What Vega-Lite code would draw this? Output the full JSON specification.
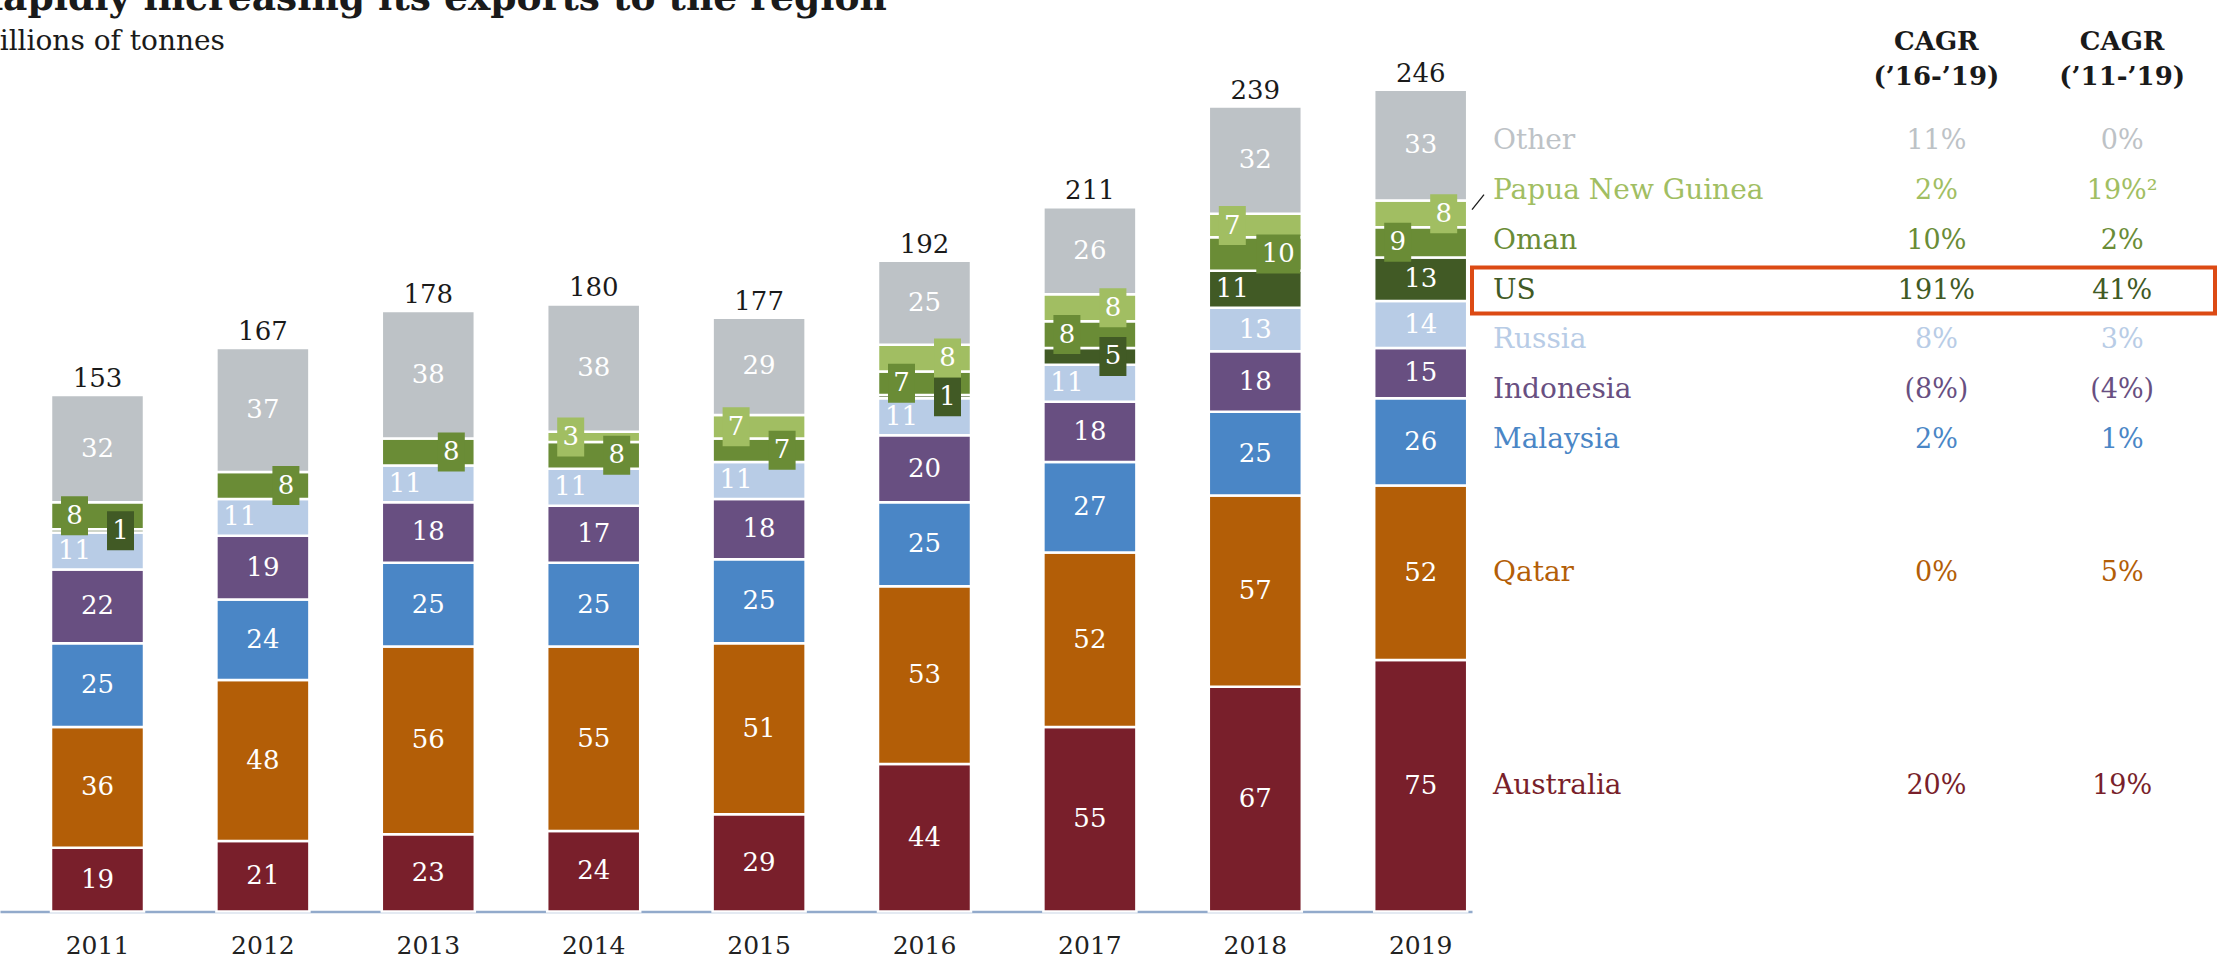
{
  "$schema": "https://vega.github.io/schema/vega-lite/v6.json",
  "padding": {"left": -29, "top": -20.5, "right": 0, "bottom": 0},
  "background": "white",
  "config": {"view": {"stroke": null}, "font": "DejaVu Serif", "text": {"font": "DejaVu Serif"}},
  "datasets": {
    "exports": [
      {"year": 2011, "country": "Australia", "value": 19},
      {"year": 2011, "country": "Qatar", "value": 36},
      {"year": 2011, "country": "Malaysia", "value": 25},
      {"year": 2011, "country": "Indonesia", "value": 22},
      {"year": 2011, "country": "Russia", "value": 11},
      {"year": 2011, "country": "US", "value": 1},
      {"year": 2011, "country": "Oman", "value": 8},
      {"year": 2011, "country": "Other", "value": 32},
      {"year": 2012, "country": "Australia", "value": 21},
      {"year": 2012, "country": "Qatar", "value": 48},
      {"year": 2012, "country": "Malaysia", "value": 24},
      {"year": 2012, "country": "Indonesia", "value": 19},
      {"year": 2012, "country": "Russia", "value": 11},
      {"year": 2012, "country": "Oman", "value": 8},
      {"year": 2012, "country": "Other", "value": 37},
      {"year": 2013, "country": "Australia", "value": 23},
      {"year": 2013, "country": "Qatar", "value": 56},
      {"year": 2013, "country": "Malaysia", "value": 25},
      {"year": 2013, "country": "Indonesia", "value": 18},
      {"year": 2013, "country": "Russia", "value": 11},
      {"year": 2013, "country": "Oman", "value": 8},
      {"year": 2013, "country": "Other", "value": 38},
      {"year": 2014, "country": "Australia", "value": 24},
      {"year": 2014, "country": "Qatar", "value": 55},
      {"year": 2014, "country": "Malaysia", "value": 25},
      {"year": 2014, "country": "Indonesia", "value": 17},
      {"year": 2014, "country": "Russia", "value": 11},
      {"year": 2014, "country": "Oman", "value": 8},
      {"year": 2014, "country": "Papua New Guinea", "value": 3},
      {"year": 2014, "country": "Other", "value": 38},
      {"year": 2015, "country": "Australia", "value": 29},
      {"year": 2015, "country": "Qatar", "value": 51},
      {"year": 2015, "country": "Malaysia", "value": 25},
      {"year": 2015, "country": "Indonesia", "value": 18},
      {"year": 2015, "country": "Russia", "value": 11},
      {"year": 2015, "country": "Oman", "value": 7},
      {"year": 2015, "country": "Papua New Guinea", "value": 7},
      {"year": 2015, "country": "Other", "value": 29},
      {"year": 2016, "country": "Australia", "value": 44},
      {"year": 2016, "country": "Qatar", "value": 53},
      {"year": 2016, "country": "Malaysia", "value": 25},
      {"year": 2016, "country": "Indonesia", "value": 20},
      {"year": 2016, "country": "Russia", "value": 11},
      {"year": 2016, "country": "US", "value": 1},
      {"year": 2016, "country": "Oman", "value": 7},
      {"year": 2016, "country": "Papua New Guinea", "value": 8},
      {"year": 2016, "country": "Other", "value": 25},
      {"year": 2017, "country": "Australia", "value": 55},
      {"year": 2017, "country": "Qatar", "value": 52},
      {"year": 2017, "country": "Malaysia", "value": 27},
      {"year": 2017, "country": "Indonesia", "value": 18},
      {"year": 2017, "country": "Russia", "value": 11},
      {"year": 2017, "country": "US", "value": 5},
      {"year": 2017, "country": "Oman", "value": 8},
      {"year": 2017, "country": "Papua New Guinea", "value": 8},
      {"year": 2017, "country": "Other", "value": 26},
      {"year": 2018, "country": "Australia", "value": 67},
      {"year": 2018, "country": "Qatar", "value": 57},
      {"year": 2018, "country": "Malaysia", "value": 25},
      {"year": 2018, "country": "Indonesia", "value": 18},
      {"year": 2018, "country": "Russia", "value": 13},
      {"year": 2018, "country": "US", "value": 11},
      {"year": 2018, "country": "Oman", "value": 10},
      {"year": 2018, "country": "Papua New Guinea", "value": 7},
      {"year": 2018, "country": "Other", "value": 32},
      {"year": 2019, "country": "Australia", "value": 75},
      {"year": 2019, "country": "Qatar", "value": 52},
      {"year": 2019, "country": "Malaysia", "value": 26},
      {"year": 2019, "country": "Indonesia", "value": 15},
      {"year": 2019, "country": "Russia", "value": 14},
      {"year": 2019, "country": "US", "value": 13},
      {"year": 2019, "country": "Oman", "value": 9},
      {"year": 2019, "country": "Papua New Guinea", "value": 8},
      {"year": 2019, "country": "Other", "value": 33}
    ],
    "totals": [
      {"year": 2011, "total": 153},
      {"year": 2012, "total": 167},
      {"year": 2013, "total": 178},
      {"year": 2014, "total": 180},
      {"year": 2015, "total": 177},
      {"year": 2016, "total": 192},
      {"year": 2017, "total": 211},
      {"year": 2018, "total": 239},
      {"year": 2019, "total": 246}
    ],
    "cagr": [
      {"country": "Other", "cagr16": "11%", "cagr11": "0%"},
      {"country": "Papua New Guinea", "cagr16": "2%", "cagr11": "19%²"},
      {"country": "Oman", "cagr16": "10%", "cagr11": "2%"},
      {"country": "US", "cagr16": "191%", "cagr11": "41%"},
      {"country": "Russia", "cagr16": "8%", "cagr11": "3%"},
      {"country": "Indonesia", "cagr16": "(8%)", "cagr11": "(4%)"},
      {"country": "Malaysia", "cagr16": "2%", "cagr11": "1%"},
      {"country": "Qatar", "cagr16": "0%", "cagr11": "5%"},
      {"country": "Australia", "cagr16": "20%", "cagr11": "19%"}
    ],
    "headers": [
      {"col": "cagr16", "label": "CAGR\n(’16-’19)"},
      {"col": "cagr11", "label": "CAGR\n(’11-’19)"}
    ]
  },
  "spacing": 0,
  "bounds": "flush",
  "resolve": {"scale": {"x": "independent", "y": "independent"}},
  "hconcat": [
    {
      "width": 1472,
      "height": 913,
      "title": {
        "text": "Rapidly increasing its exports to the region",
        "subtitle": "Millions of tonnes",
        "anchor": "start",
        "frame": "group",
        "dx": -29,
        "offset": -57,
        "font": "DejaVu Serif",
        "fontSize": 37.6,
        "fontWeight": "bold",
        "color": "#1a1a1a",
        "subtitleFont": "DejaVu Serif",
        "subtitleFontSize": 28,
        "subtitleColor": "#1a1a1a",
        "subtitlePadding": 10
      },
      "data": {"name": "exports"},
      "transform": [
        {"calculate": "indexof(['Australia','Qatar','Malaysia','Indonesia','Russia','US','Oman','Papua New Guinea','Other'], datum.country)", "as": "ord"},
        {"stack": "value", "groupby": ["year"], "sort": [{"field": "ord", "order": "ascending"}], "as": ["v0", "v1"]},
        {"calculate": "(datum.v0 + datum.v1) / 2", "as": "mid"},
        {"calculate": "datum.country == 'Russia' ? (datum.year <= 2017 ? 'L' : 'C') : datum.country == 'US' ? (datum.year == 2018 ? 'L' : (datum.year == 2019 ? 'C' : 'R')) : datum.country == 'Oman' ? (indexof([2011, 2016, 2017, 2019], datum.year) >= 0 ? 'L' : 'R') : datum.country == 'Papua New Guinea' ? (indexof([2014, 2015, 2018], datum.year) >= 0 ? 'L' : 'R') : 'C'", "as": "side"},
        {"calculate": "datum.country == 'Oman' || datum.country == 'Papua New Guinea' || (datum.country == 'US' && datum.value < 6)", "as": "boxed"}
      ],
      "encoding": {
        "x": {
          "field": "year",
          "type": "ordinal",
          "scale": {"type": "band", "paddingInner": 0.4377, "paddingOuter": 0.1687, "align": 0.914},
          "axis": {
            "title": null,
            "labelFont": "DejaVu Serif",
            "labelFontSize": 25,
            "labelColor": "#222222",
            "labelAngle": 0,
            "ticks": false,
            "tickSize": 0,
            "labelPadding": 22,
            "domainColor": "#92AACB",
            "domainWidth": 2.5,
            "grid": false
          }
        }
      },
      "layer": [
        {
          "mark": {"type": "bar", "stroke": "white", "strokeWidth": 2.5},
          "encoding": {
            "y": {"field": "v0", "type": "quantitative", "scale": {"domain": [0, 272.2], "nice": false, "zero": true}, "axis": null},
            "y2": {"field": "v1"},
            "color": {
              "field": "country",
              "type": "nominal",
              "scale": {
                "domain": ["Australia", "Qatar", "Malaysia", "Indonesia", "Russia", "US", "Oman", "Papua New Guinea", "Other"],
                "range": ["#791F2B", "#B35E07", "#4A86C6", "#684F81", "#B8CCE6", "#415A25", "#6A8C36", "#A1BE62", "#BDC2C6"]
              },
              "legend": null
            }
          }
        },
        {
          "transform": [{"filter": "datum.boxed"}],
          "mark": {"type": "point", "filled": true, "opacity": 1, "size": 1521, "strokeWidth": 0,
            "xOffset": {"expr": "datum.side == 'L' ? -23 : (datum.side == 'R' ? 23 : 0)"}},
          "encoding": {
            "y": {"field": "mid", "type": "quantitative"},
            "color": {"field": "country", "type": "nominal", "legend": null},
            "shape": {
              "condition": {"test": "datum.value >= 10", "value": "M-1.128,-1H1.128V1H-1.128Z"},
              "value": "M-0.692,-1H0.692V1H-0.692Z"
            }
          }
        },
        {
          "mark": {"type": "text", "color": "white", "fontSize": 26, "baseline": "middle", "font": "DejaVu Serif",
            "xOffset": {"expr": "datum.side == 'L' ? -23 : (datum.side == 'R' ? 23 : 0)"}},
          "encoding": {
            "y": {"field": "mid", "type": "quantitative"},
            "text": {"field": "value", "type": "quantitative"}
          }
        },
        {
          "transform": [
            {"aggregate": [{"op": "max", "field": "v1", "as": "top"}], "groupby": ["year"]},
            {"lookup": "year", "from": {"data": {"name": "totals"}, "key": "year", "fields": ["total"]}}
          ],
          "mark": {"type": "text", "color": "#1a1a1a", "fontSize": 26, "baseline": "alphabetic", "dy": -8, "font": "DejaVu Serif"},
          "encoding": {
            "y": {"field": "top", "type": "quantitative"},
            "text": {"field": "total", "type": "quantitative"}
          }
        }
      ]
    },
    {
      "width": 743,
      "height": 913,
      "resolve": {"scale": {"y": "independent"}},
      "layer": [
        {
          "layer": [
            {
              "data": {"name": "cagr"},
              "transform": [{"filter": "datum.country == 'US'"}],
              "mark": {"type": "rect", "fill": "transparent", "stroke": "#DC4A14", "strokeWidth": 4},
              "encoding": {
                "y": {"field": "country", "type": "nominal", "axis": null,
                  "scale": {"type": "band", "domain": ["header", "gap", "Other", "Papua New Guinea", "Oman", "US", "Russia", "Indonesia", "Malaysia", "s1", "s2", "s3", "s4", "s5", "s6", "s7", "s8"], "paddingInner": 0.0739, "paddingOuter": 0.7275, "align": 0.2857}}
              }
            },
            {
              "data": {"name": "headers"},
              "mark": {"type": "text", "fontSize": 26, "fontWeight": "bold", "lineBreak": "\n", "lineHeight": 35, "baseline": "middle", "color": "#1a1a1a", "font": "DejaVu Serif"},
              "encoding": {
                "x": {"field": "col", "type": "nominal", "axis": null,
                  "scale": {"type": "band", "domain": ["country", "gap", "cagr16", "cagr11"], "paddingInner": 0, "paddingOuter": 0}},
                "y": {"datum": "header", "type": "nominal", "axis": null,
                  "scale": {"type": "band", "domain": ["header", "gap", "Other", "Papua New Guinea", "Oman", "US", "Russia", "Indonesia", "Malaysia", "s1", "s2", "s3", "s4", "s5", "s6", "s7", "s8"], "paddingInner": 0.0739, "paddingOuter": 0.7275, "align": 0.2857}},
                "text": {"field": "label"}
              }
            },
            {
              "data": {"name": "cagr"},
              "transform": [
                {"filter": "datum.country == 'Papua New Guinea'"},
                {"fold": ["country"], "as": ["col", "txt"]}
              ],
              "mark": {"type": "point", "shape": "M-0.8,1L0.8,-1", "filled": false, "size": 225, "strokeWidth": 1.3, "color": "#1a1a1a", "opacity": 1, "xOffset": 6, "yOffset": 11},
              "encoding": {
                "x": {"field": "col", "type": "nominal", "bandPosition": 0, "axis": null,
                  "scale": {"type": "band", "domain": ["country", "gap", "cagr16", "cagr11"], "paddingInner": 0, "paddingOuter": 0}},
                "y": {"field": "country", "type": "nominal", "axis": null,
                  "scale": {"type": "band", "domain": ["header", "gap", "Other", "Papua New Guinea", "Oman", "US", "Russia", "Indonesia", "Malaysia", "s1", "s2", "s3", "s4", "s5", "s6", "s7", "s8"], "paddingInner": 0.0739, "paddingOuter": 0.7275, "align": 0.2857}}
              }
            },
            {
              "data": {"name": "cagr"},
              "transform": [
                {"filter": "datum.country != 'Qatar' && datum.country != 'Australia'"},
                {"fold": ["country"], "as": ["col", "txt"]}
              ],
              "mark": {"type": "text", "align": "left", "dx": 21, "fontSize": 28, "baseline": "middle", "font": "DejaVu Serif"},
              "encoding": {
                "x": {"field": "col", "type": "nominal", "bandPosition": 0, "axis": null,
                  "scale": {"type": "band", "domain": ["country", "gap", "cagr16", "cagr11"], "paddingInner": 0, "paddingOuter": 0}},
                "y": {"field": "country", "type": "nominal", "axis": null,
                  "scale": {"type": "band", "domain": ["header", "gap", "Other", "Papua New Guinea", "Oman", "US", "Russia", "Indonesia", "Malaysia", "s1", "s2", "s3", "s4", "s5", "s6", "s7", "s8"], "paddingInner": 0.0739, "paddingOuter": 0.7275, "align": 0.2857}},
                "text": {"field": "txt"},
                "color": {"field": "country", "type": "nominal", "legend": null}
              }
            },
            {
              "data": {"name": "cagr"},
              "transform": [
                {"filter": "datum.country != 'Qatar' && datum.country != 'Australia'"},
                {"fold": ["cagr16", "cagr11"], "as": ["col", "txt"]}
              ],
              "mark": {"type": "text", "fontSize": 27, "baseline": "middle", "font": "DejaVu Serif"},
              "encoding": {
                "x": {"field": "col", "type": "nominal", "axis": null,
                  "scale": {"type": "band", "domain": ["country", "gap", "cagr16", "cagr11"], "paddingInner": 0, "paddingOuter": 0}},
                "y": {"field": "country", "type": "nominal", "axis": null,
                  "scale": {"type": "band", "domain": ["header", "gap", "Other", "Papua New Guinea", "Oman", "US", "Russia", "Indonesia", "Malaysia", "s1", "s2", "s3", "s4", "s5", "s6", "s7", "s8"], "paddingInner": 0.0739, "paddingOuter": 0.7275, "align": 0.2857}},
                "text": {"field": "txt"},
                "color": {"field": "country", "type": "nominal", "legend": null}
              }
            }
          ]
        },
        {
          "data": {"name": "exports"},
          "transform": [
            {"filter": "datum.year == 2019"},
            {"calculate": "indexof(['Australia','Qatar','Malaysia','Indonesia','Russia','US','Oman','Papua New Guinea','Other'], datum.country)", "as": "ord"},
            {"stack": "value", "groupby": ["year"], "sort": [{"field": "ord", "order": "ascending"}], "as": ["v0", "v1"]},
            {"calculate": "(datum.v0 + datum.v1) / 2", "as": "mid"},
            {"filter": "datum.country == 'Qatar' || datum.country == 'Australia'"},
            {"lookup": "country", "from": {"data": {"name": "cagr"}, "key": "country", "fields": ["cagr16", "cagr11"]}}
          ],
          "encoding": {
            "y": {"field": "mid", "type": "quantitative", "axis": null, "scale": {"domain": [0, 272.2], "nice": false, "zero": true}}
          },
          "layer": [
            {
              "transform": [{"fold": ["country"], "as": ["col", "txt"]}],
              "mark": {"type": "text", "align": "left", "dx": 21, "fontSize": 28, "baseline": "middle", "font": "DejaVu Serif"},
              "encoding": {
                "x": {"field": "col", "type": "nominal", "bandPosition": 0, "axis": null},
                "text": {"field": "txt"},
                "color": {"field": "country", "type": "nominal", "legend": null}
              }
            },
            {
              "transform": [{"fold": ["cagr16", "cagr11"], "as": ["col", "txt"]}],
              "mark": {"type": "text", "fontSize": 27, "baseline": "middle", "font": "DejaVu Serif"},
              "encoding": {
                "x": {"field": "col", "type": "nominal", "axis": null},
                "text": {"field": "txt"},
                "color": {"field": "country", "type": "nominal", "legend": null}
              }
            }
          ]
        }
      ]
    }
  ]
}
